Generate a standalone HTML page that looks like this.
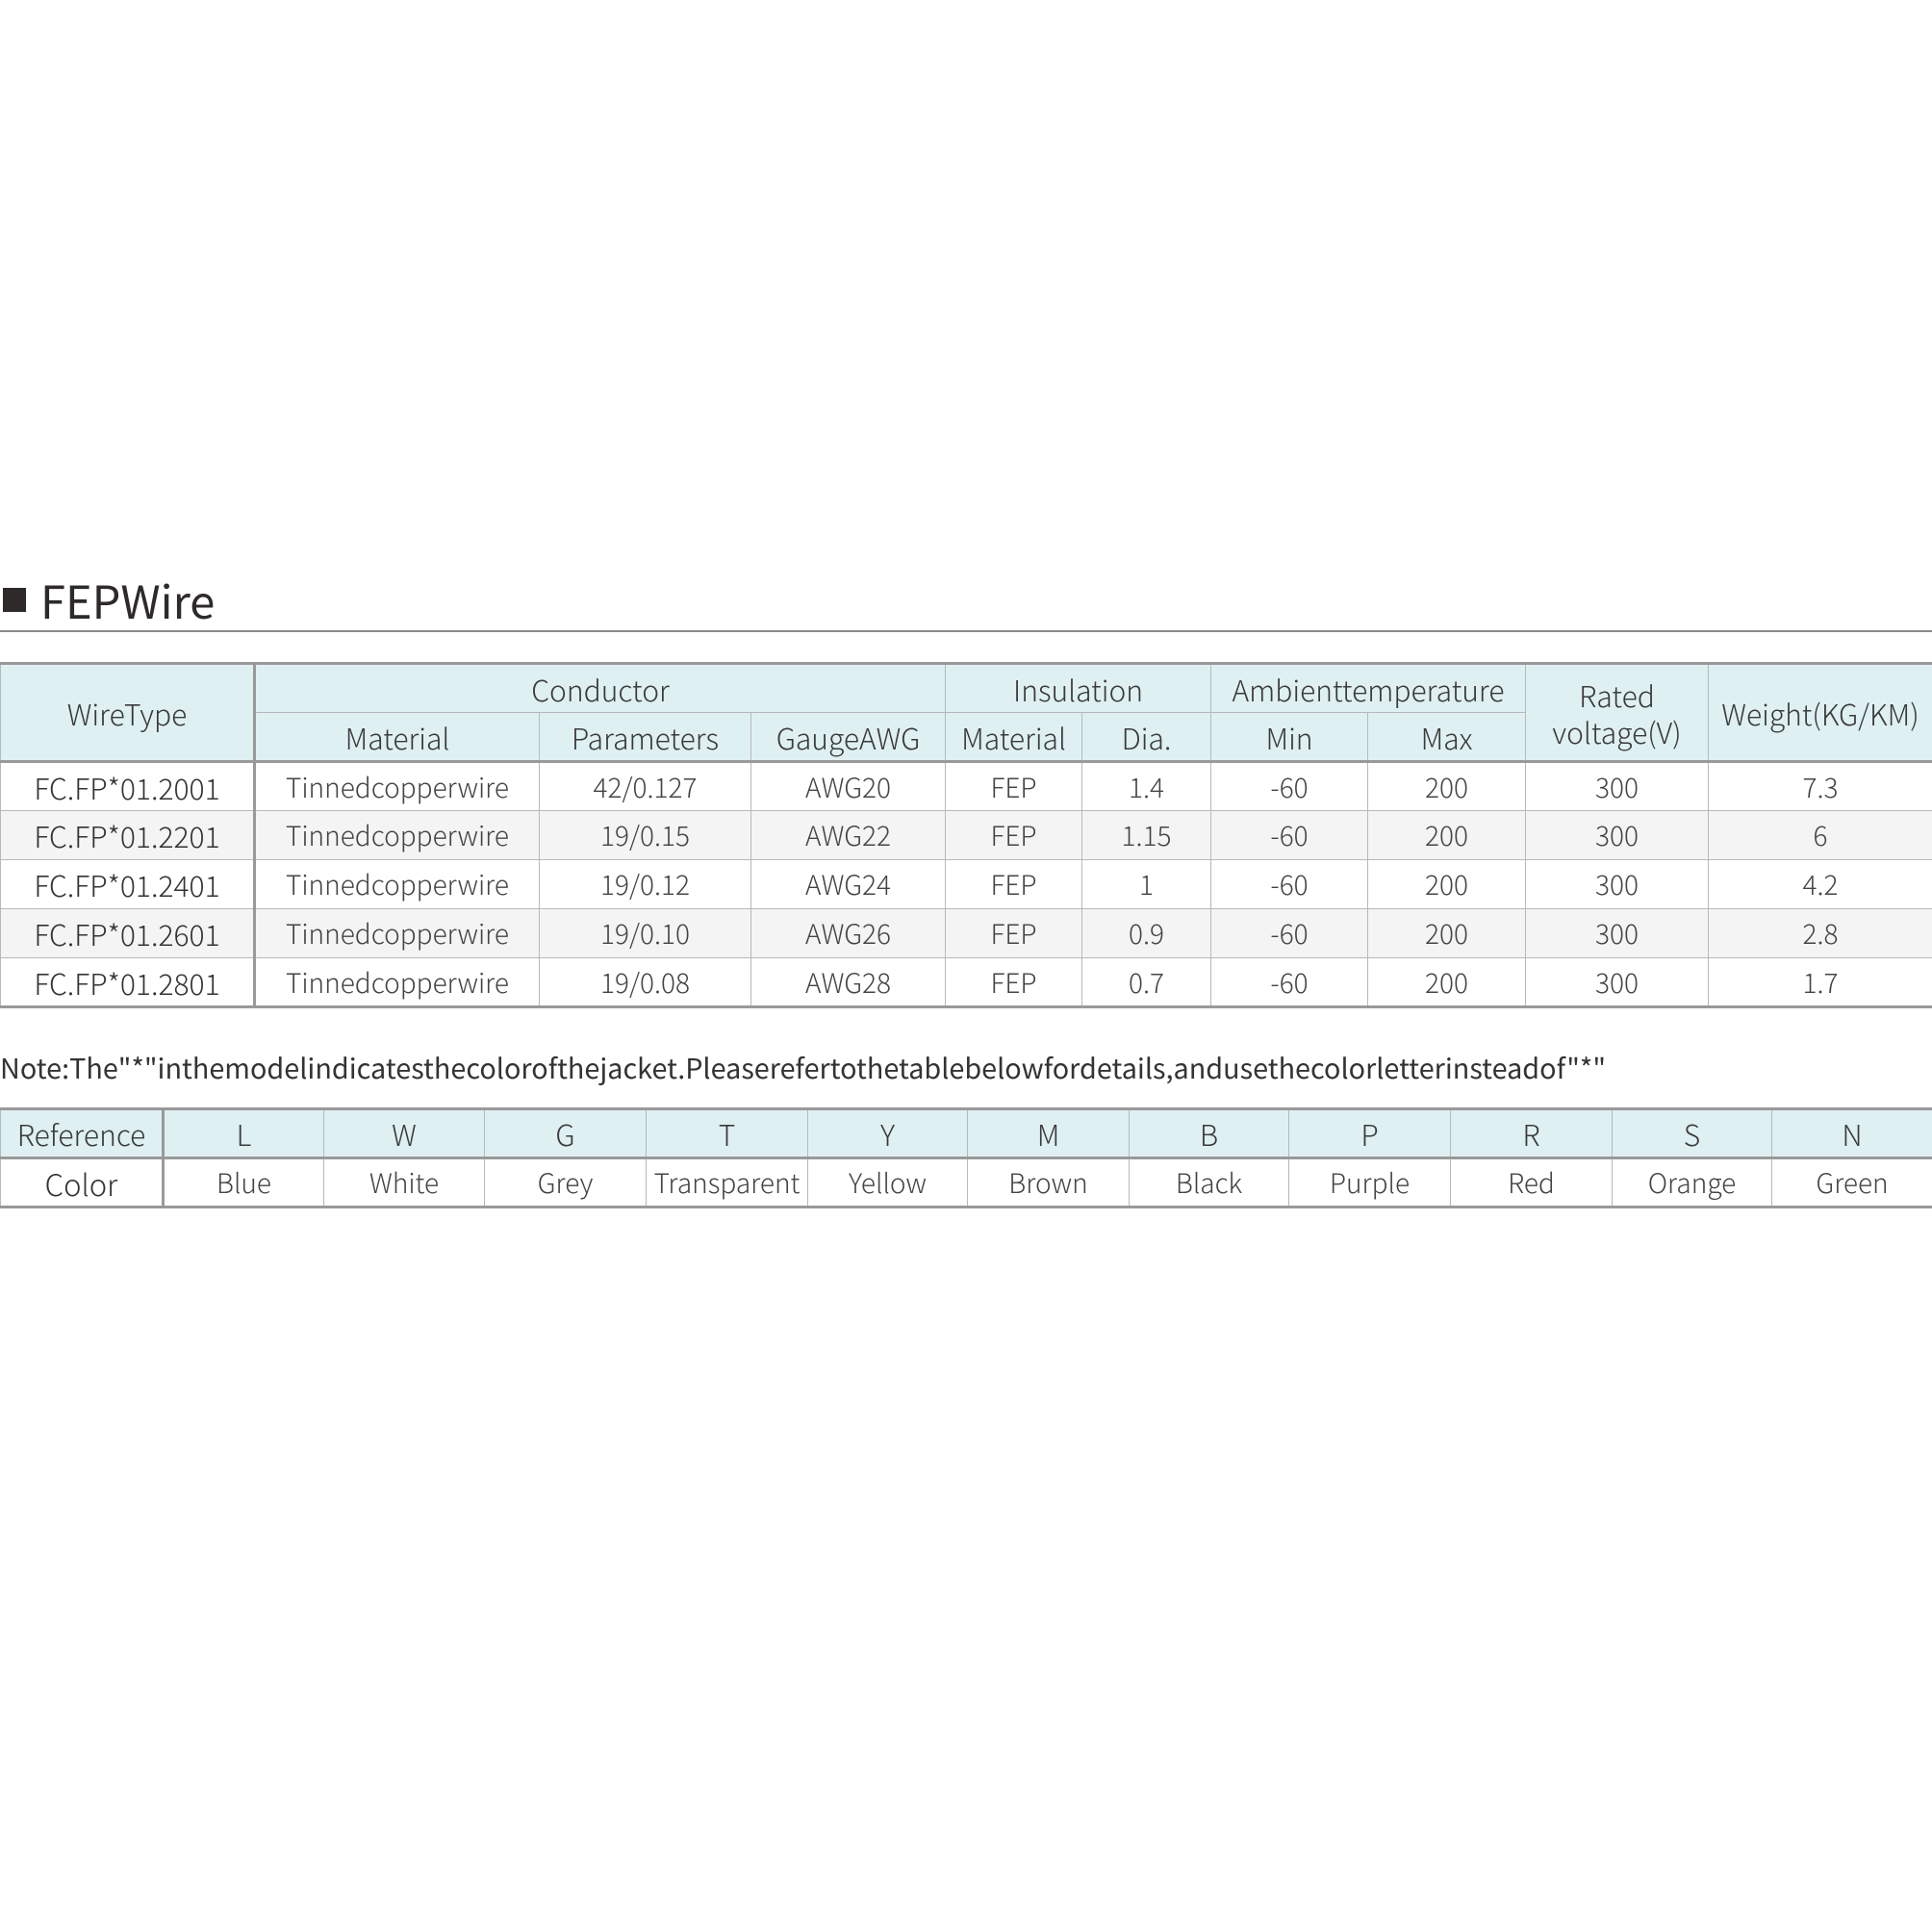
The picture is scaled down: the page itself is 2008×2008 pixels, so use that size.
<!DOCTYPE html>
<html><head><meta charset="utf-8"><style>
*{margin:0;padding:0;box-sizing:border-box}
body{width:2008px;height:2008px;background:#fff;position:relative;font-family:"Noto Sans CJK SC","Liberation Sans",sans-serif;color:#3a3a3a;overflow:hidden}
.sq{position:absolute;left:3px;top:611px;width:24px;height:25px;background:#2e2a29}
.title{position:absolute;left:42px;top:590px;font-size:47px;line-height:66px;color:#2e2a29}
.hl{position:absolute;left:0;top:655px;width:2008px;height:2px;background:#8a8a8a}
table{position:absolute;left:0;border-collapse:collapse;table-layout:fixed}
td{border:1.5px solid #b8b8b8;text-align:center;vertical-align:middle;font-size:28px;font-weight:300;color:#444;padding:0;white-space:nowrap;overflow:hidden;transform-origin:center}
.h td{background:#dff0f3;color:#3a3a3a;font-size:30px}
.g td{background:#f4f4f4}
#t1{top:688px;width:2008px;border-top:3px solid #999;border-bottom:3px solid #999}
#t2{top:1151px;width:2008px;border-top:3px solid #999;border-bottom:3px solid #999}
td.b{border-right:3px solid #999}
td.ht{border-bottom:3px solid #999}
td.f{color:#333;font-size:30px}
.note{position:absolute;left:0;top:1089px;font-size:28.8px;line-height:42px;color:#333;white-space:nowrap}
</style></head><body>
<div class="sq"></div>
<div class="title">FEPWire</div>
<div class="hl"></div>
<table id="t1">
<colgroup><col style="width:264px"><col style="width:296px"><col style="width:220px"><col style="width:202px"><col style="width:142px"><col style="width:134px"><col style="width:163px"><col style="width:164px"><col style="width:190px"><col style="width:233px"></colgroup>
<tr class="h" style="height:51px"><td rowspan="2" class="b ht">WireType</td><td colspan="3">Conductor</td><td colspan="2">Insulation</td><td colspan="2">Ambienttemperature</td><td rowspan="2" class="ht" style="line-height:38px">Rated<br>voltage(V)</td><td rowspan="2" class="ht">Weight(KG/KM)</td></tr>
<tr class="h" style="height:51px"><td class="ht">Material</td><td class="ht">Parameters</td><td class="ht">GaugeAWG</td><td class="ht">Material</td><td class="ht">Dia.</td><td class="ht">Min</td><td class="ht">Max</td></tr>
<tr style="height:51px"><td class="b f">FC.FP*01.2001</td><td>Tinnedcopperwire</td><td>42/0.127</td><td>AWG20</td><td>FEP</td><td>1.4</td><td>-60</td><td>200</td><td>300</td><td>7.3</td></tr>
<tr class="g" style="height:51px"><td class="b f">FC.FP*01.2201</td><td>Tinnedcopperwire</td><td>19/0.15</td><td>AWG22</td><td>FEP</td><td>1.15</td><td>-60</td><td>200</td><td>300</td><td>6</td></tr>
<tr style="height:51px"><td class="b f">FC.FP*01.2401</td><td>Tinnedcopperwire</td><td>19/0.12</td><td>AWG24</td><td>FEP</td><td>1</td><td>-60</td><td>200</td><td>300</td><td>4.2</td></tr>
<tr class="g" style="height:51px"><td class="b f">FC.FP*01.2601</td><td>Tinnedcopperwire</td><td>19/0.10</td><td>AWG26</td><td>FEP</td><td>0.9</td><td>-60</td><td>200</td><td>300</td><td>2.8</td></tr>
<tr style="height:51px"><td class="b f">FC.FP*01.2801</td><td>Tinnedcopperwire</td><td>19/0.08</td><td>AWG28</td><td>FEP</td><td>0.7</td><td>-60</td><td>200</td><td>300</td><td>1.7</td></tr>
</table>
<div class="note">Note:The"*"inthemodelindicatesthecolorofthejacket.Pleaserefertothetablebelowfordetails,andusethecolorletterinsteadof"*"</div>
<table id="t2">
<colgroup><col style="width:169px"><col style="width:167px"><col style="width:167px"><col style="width:168px"><col style="width:168px"><col style="width:166px"><col style="width:168px"><col style="width:166px"><col style="width:168px"><col style="width:168px"><col style="width:166px"><col style="width:167px"></colgroup>
<tr class="h" style="height:51px"><td class="b ht">Reference</td><td class="ht">L</td><td class="ht">W</td><td class="ht">G</td><td class="ht">T</td><td class="ht">Y</td><td class="ht">M</td><td class="ht">B</td><td class="ht">P</td><td class="ht">R</td><td class="ht">S</td><td class="ht">N</td></tr>
<tr style="height:51px"><td class="b" style="color:#333;font-size:31px">Color</td><td>Blue</td><td>White</td><td>Grey</td><td>Transparent</td><td>Yellow</td><td>Brown</td><td>Black</td><td>Purple</td><td>Red</td><td>Orange</td><td>Green</td></tr>
</table>
</body></html>
